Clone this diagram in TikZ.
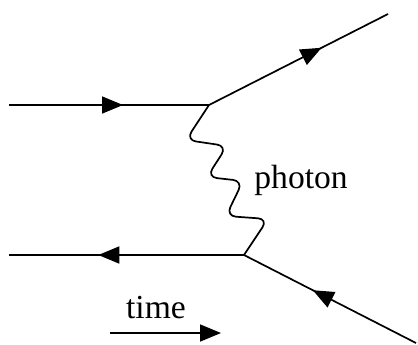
\documentclass[tikz,border=0pt]{standalone}
\usepackage{fontspec}
\setmainfont{Liberation Serif}
\usetikzlibrary{arrows.meta, decorations.markings}
\tikzset{
  fermion/.style={line width=0.85pt, postaction={decorate},
    decoration={markings, mark=at position #1 with {\arrow{Triangle[length=10.5pt,width=8.5pt]}}}},
  fermion/.default=0.6,
  photon/.style={line width=0.85pt, rounded corners=5pt},
  lbl/.style={font=\fontsize{16.8}{20}\selectfont, inner sep=0pt}
}
\begin{document}
\begin{tikzpicture}[x=0.5pt, y=-0.5pt]
  \useasboundingbox (0,0) rectangle (418,344);
  % vertices and free ends
  \coordinate (inTop) at (9,105);
  \coordinate (A) at (209,105);
  \coordinate (outTop) at (388,14);
  \coordinate (inBot) at (9,255);
  \coordinate (B) at (244,255);
  \coordinate (outBot) at (416,343);
  % fermion lines
  \draw[fermion=0.57] (inTop) -- (A);
  \draw[fermion=0.63] (A) -- (outTop);
  \draw[fermion=0.62] (B) -- (inBot);
  \draw[fermion=0.6] (outBot) -- (B);
  % photon
  \draw[photon] (A) -- ++(-23,35) -- ++(41,6) -- ++(-20,31) -- ++(36,4)
    -- ++(-17,35) -- ++(42,3) -- (B);
  \node[lbl, anchor=base west] (photonlbl) at (254,188) {photon};
  % time axis
  \node[lbl, anchor=base] (timelbl) at (156,318) {time};
  \coordinate (t0) at (110,333);
  \coordinate (t1) at (221,333);
  \draw[line width=0.85pt, -{Triangle[length=10.5pt,width=8.5pt]}] (t0) -- (t1);
\end{tikzpicture}
\end{document}
